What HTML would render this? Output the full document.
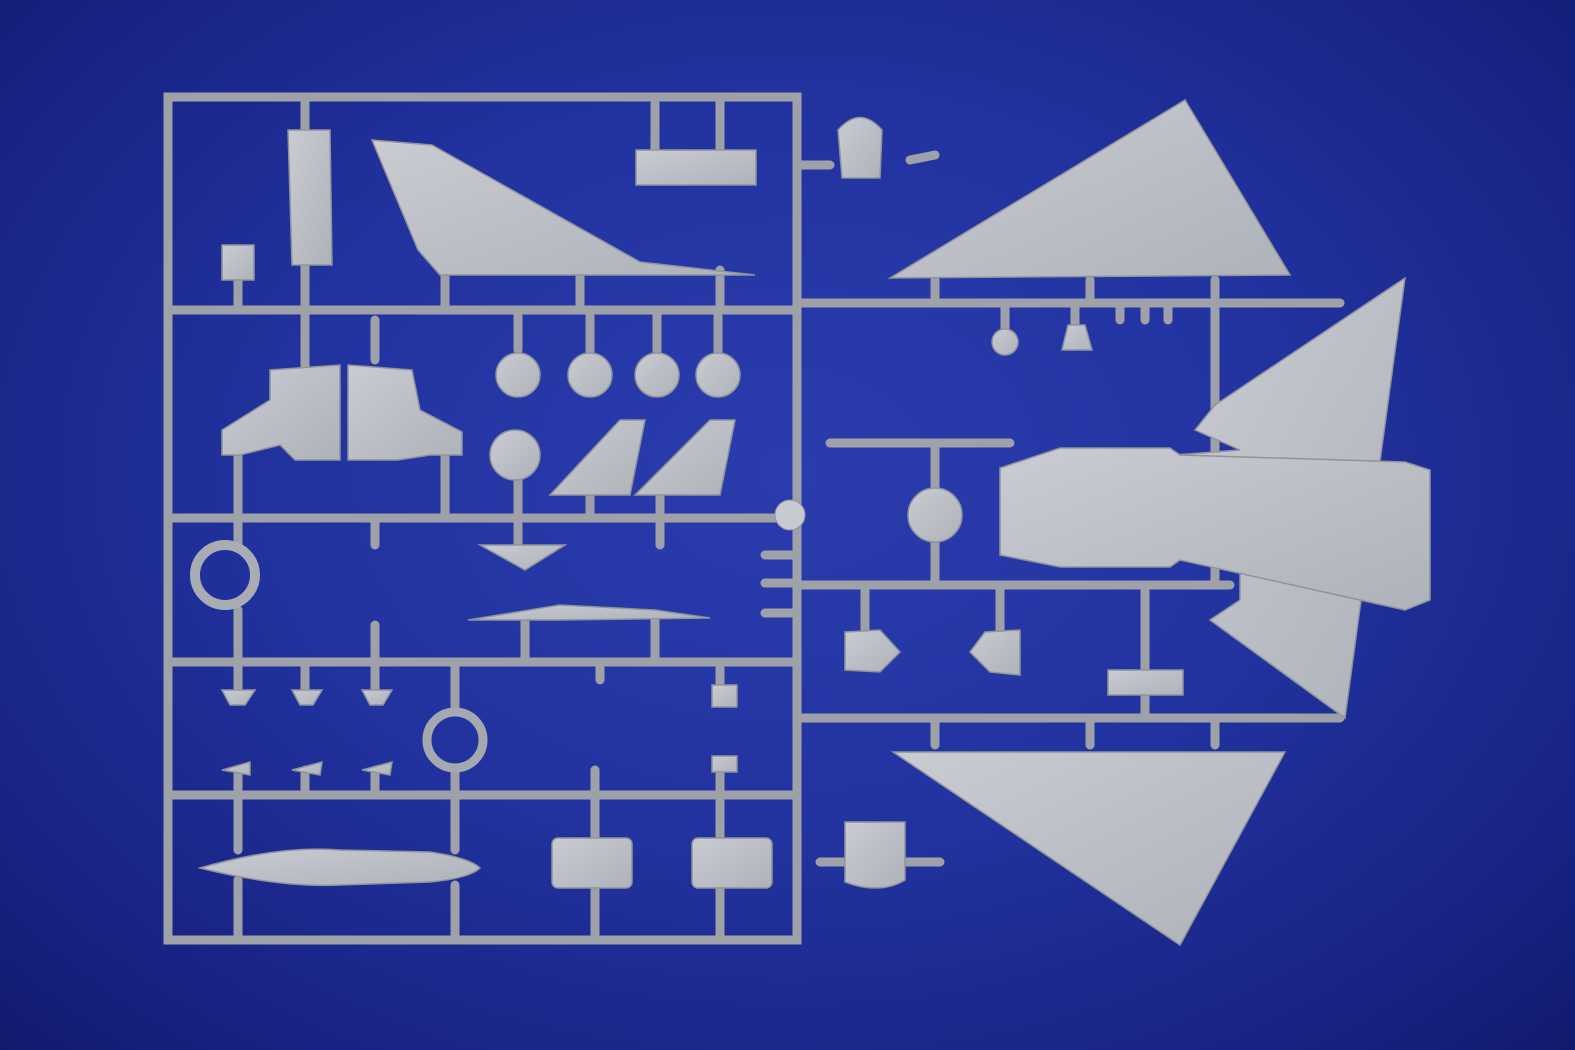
<!DOCTYPE html>
<html><head><meta charset="utf-8"><style>
html,body{margin:0;padding:0;width:1575px;height:1050px;overflow:hidden;}
body{background:radial-gradient(ellipse at 50% 45%,#2b3cae 0%,#2233a0 45%,#172180 85%,#121a6c 100%);}
svg{display:block}
</style></head><body>
<svg width="1575" height="1050" viewBox="0 0 1575 1050" xmlns="http://www.w3.org/2000/svg">
<defs>
<linearGradient id="pl" x1="0" y1="0" x2="1" y2="1"><stop offset="0" stop-color="#c9ccd2"/><stop offset="1" stop-color="#aeb2b9"/></linearGradient>
</defs>
<g stroke="#9ea2a8" stroke-width="9" stroke-linecap="round" fill="none">
<path d="M168 97 H797 V940 H168 Z"/>
<path d="M168 310 H797 M168 518 H797 M168 662 H797 M168 795 H797"/>
<path d="M797 303 H1340 M830 443 H1010 M797 585 H1230 M797 718 H1340"/>
<path d="M305 100 V130 M305 265 V310 M238 280 V310 M445 275 V310 M580 275 V310 M720 270 V310 M655 100 V150 M720 100 V150"/>
<path d="M797 165 H830 M910 160 L935 155"/>
<path d="M935 280 V303 M1090 280 V303 M1215 280 V303 M1005 303 V330 M1075 303 V325 M1120 303 V320 M1145 303 V320 M1168 303 V320"/>
<path d="M305 310 V370 M375 320 V360 M518 310 V350 M590 310 V352 M657 310 V352 M718 310 V352"/>
<path d="M238 455 V518 M445 455 V518 M518 480 V518 M590 495 V518 M660 495 V518"/>
<path d="M238 518 V545 M375 518 V545 M518 518 V545 M660 518 V545 M238 610 V662 M375 625 V662 M525 620 V662 M655 620 V662"/>
<path d="M238 662 V690 M305 662 V690 M375 662 V690 M455 662 V710 M600 662 V680 M720 662 V685"/>
<path d="M238 770 V795 M305 770 V795 M375 770 V795 M455 770 V795 M595 770 V795 M720 770 V795"/>
<path d="M238 795 V850 M455 795 V850 M595 795 V840 M720 795 V840 M595 888 V940 M720 888 V940 M455 885 V940 M238 880 V940"/>
<path d="M935 443 V490 M935 540 V585 M865 585 V640 M1000 585 V635 M1145 585 V670 M1145 690 V718 M935 718 V745 M1090 718 V745 M1215 718 V745"/>
<path d="M797 555 H765 M797 583 H765 M797 613 H765 M905 862 H940 M820 862 H845"/>
<path d="M1215 303 V585"/>
</g>
<g fill="url(#pl)" stroke="#8f939a" stroke-width="1.5">
<path d="M288 130 L330 130 L332 265 L292 265 Z"/>
<rect x="222" y="245" width="32" height="35"/>
<path d="M372 140 L432 145 L640 262 L755 275 L440 275 L418 250 Z"/>
<rect x="636" y="150" width="120" height="35"/>
<path d="M838 130 Q860 105 882 130 L880 178 L842 178 Z"/>
<path d="M890 278 L1185 100 L1290 275 Z"/>
<circle cx="518" cy="375" r="22"/><circle cx="590" cy="375" r="22"/>
<circle cx="657" cy="375" r="22"/><circle cx="718" cy="375" r="22"/>
<circle cx="515" cy="455" r="25"/><circle cx="935" cy="515" r="27"/>
<circle cx="1005" cy="342" r="13"/>
<path d="M1062 350 L1068 325 L1085 325 L1092 350 Z"/>
<path d="M222 455 L222 430 L270 400 L270 370 L340 365 L340 460 L295 460 L280 445 L240 455 Z"/>
<path d="M348 365 L412 370 L420 410 L462 432 L462 455 L430 455 L398 460 L348 460 Z"/>
<path d="M550 495 L620 420 L645 420 L630 495 Z"/>
<path d="M635 495 L710 420 L735 420 L720 495 Z"/>
<path d="M480 545 L565 545 L525 570 Z"/>
<circle cx="225" cy="575" r="30" fill="none" stroke="#a9adb3" stroke-width="10"/>
<path d="M468 620 L560 605 L655 610 L710 618 L560 620 Z"/>
<circle cx="455" cy="740" r="28" fill="none" stroke="#a5a9af" stroke-width="9"/>
<path d="M222 690 L255 690 L245 705 L230 705 Z"/><path d="M292 690 L322 690 L313 705 L300 705 Z"/><path d="M362 690 L392 690 L383 705 L370 705 Z"/>
<path d="M222 770 L250 762 L250 775 Z"/><path d="M292 770 L322 762 L320 775 Z"/><path d="M362 770 L392 762 L390 775 Z"/>
<rect x="712" y="685" width="25" height="22"/><rect x="712" y="756" width="25" height="16"/>
<path d="M200 868 Q280 845 340 850 L430 852 Q470 858 480 868 Q470 878 430 882 L340 885 Q280 888 200 868 Z"/>
<rect x="552" y="838" width="80" height="50" rx="6"/>
<rect x="692" y="838" width="80" height="50" rx="6"/>
<path d="M845 822 L905 822 L905 880 Q880 895 845 882 Z"/>
<path d="M845 632 L880 630 L900 652 L880 672 L845 670 Z"/>
<path d="M970 652 L985 632 L1020 630 L1020 675 L990 672 Z"/>
<rect x="1108" y="670" width="75" height="25"/>
<path d="M1405 278 L1345 718 L1210 620 L1240 600 L1240 570 L1180 560 L1175 455 L1240 450 L1195 430 L1215 405 Z"/>
<path d="M1000 468 L1060 448 L1170 448 L1180 455 L1405 462 L1430 470 L1430 600 L1405 610 L1180 560 L1170 567 L1060 567 L1000 555 Z"/>
<path d="M893 752 L1285 752 L1180 945 Z"/>
</g>
<circle cx="790" cy="515" r="15" fill="#c7cad0" stroke="#8f939a"/>
</svg>
</body></html>
